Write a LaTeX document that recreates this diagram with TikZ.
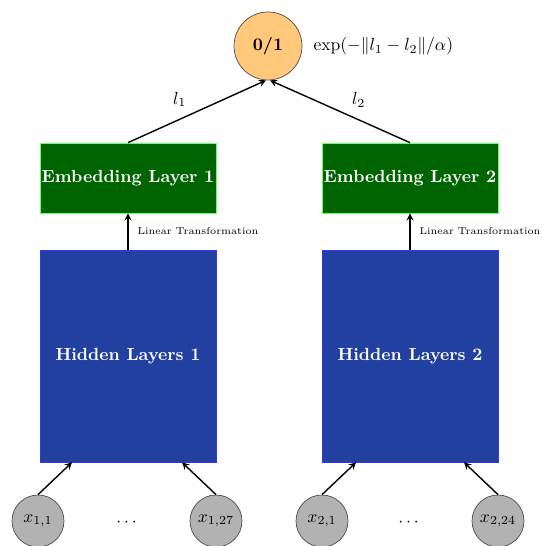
\documentclass[tikz,border=0pt]{standalone}
\usepackage{amsmath}
\usepackage{amssymb}
\usetikzlibrary{positioning}
\definecolor{hidblue}{RGB}{33,64,160}
\definecolor{embgreen}{RGB}{0,100,0}
\definecolor{outorange}{RGB}{255,200,122}
\tikzset{
  EmbStyle/.style = {rectangle, draw=green!60, fill=embgreen, text=white,
    font=\bfseries, inner sep=1pt, minimum width=3.52cm, minimum height=1.4cm},
  HidStyle/.style = {rectangle, draw=blue!80, fill=hidblue, text=white,
    font=\bfseries, inner sep=1pt, minimum width=3.52cm, minimum height=4.24cm},
  InStyle/.style = {circle, draw=black!70, fill=gray!60, minimum size=1.04cm, inner sep=0pt},
  OutStyle/.style = {circle, draw=black!70, fill=outorange, minimum size=1.36cm, inner sep=0pt},
  EdgeStyle/.style = {->, >=stealth, thick},
  LinStyle/.style = {right, font=\fontsize{5.7}{7}\selectfont}
}

\begin{document}
\begin{tikzpicture}[x=0.02cm, y=-0.02cm]
  \useasboundingbox (0,0) rectangle (541,546);
  \node[OutStyle] (out) at (268,46) {\textbf{0/1}};
  \node[right=0.1cm of out] (sim) {$\exp(-\|l_1-l_2\|/\alpha)$};
  \node[EmbStyle] (emb1) at (128,178) {Embedding Layer 1};
  \node[EmbStyle] (emb2) at (410,178) {Embedding Layer 2};
  \node[HidStyle] (hid1) at (128,356) {Hidden Layers 1};
  \node[HidStyle] (hid2) at (410,356) {Hidden Layers 2};
  \node[InStyle] (x11) at (38,521) {$x_{1,1}$};
  \node[InStyle] (x127) at (216,521) {$x_{1,27}$};
  \node[InStyle] (x21) at (322,521) {$x_{2,1}$};
  \node[InStyle] (x224) at (498,521) {$x_{2,24}$};
  \node (dots1) at (128,523) {$\cdots$};
  \node (dots2) at (410,523) {$\cdots$};
  \draw[EdgeStyle] (emb1.north) -- node[pos=0.47, above left] {$l_1$} ([xshift=-0.04cm]out.south);
  \draw[EdgeStyle] (emb2.north) -- node[pos=0.46, above right] {$l_2$} ([xshift=0.04cm]out.south);
  \draw[EdgeStyle] (hid1) -- node[LinStyle, xshift=0.06cm] {Linear Transformation} (emb1);
  \draw[EdgeStyle] (hid2) -- node[LinStyle, xshift=0.06cm] {Linear Transformation} (emb2);
  \draw[EdgeStyle] (x11.north) -- ([xshift=-1.12cm]hid1.south);
  \draw[EdgeStyle] (x127.north) -- ([xshift=1.08cm]hid1.south);
  \draw[EdgeStyle] (x21.north) -- ([xshift=-1.08cm]hid2.south);
  \draw[EdgeStyle] (x224.north) -- ([xshift=1.08cm]hid2.south);
\end{tikzpicture}
\end{document}
